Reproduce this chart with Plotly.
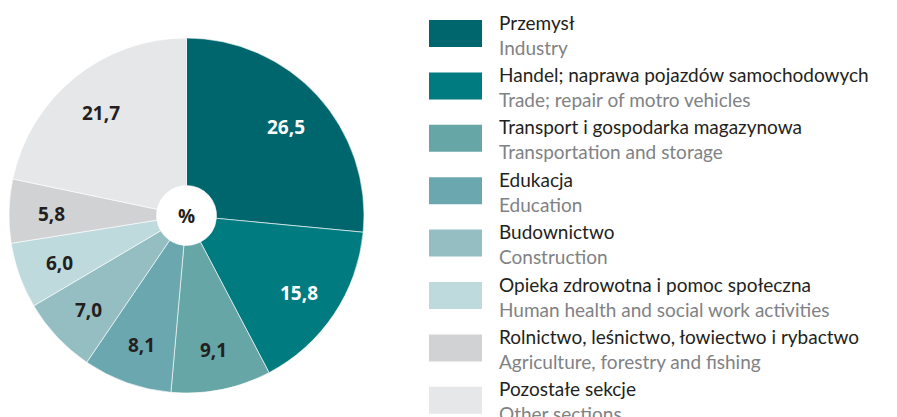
import math
import plotly.graph_objects as go

# ---- data ----
labels_pl = ["Przemysł", "Handel; naprawa pojazdów samochodowych", "Transport i gospodarka magazynowa",
             "Edukacja", "Budownictwo", "Opieka zdrowotna i pomoc społeczna",
             "Rolnictwo, leśnictwo, łowiectwo i rybactwo", "Pozostałe sekcje"]
labels_en = ["Industry", "Trade; repair of motro vehicles", "Transportation and storage",
             "Education", "Construction", "Human health and social work activities",
             "Agriculture, forestry and fishing", "Other sections"]
values = [26.5, 15.8, 9.1, 8.1, 7.0, 6.0, 5.8, 21.7]
value_text = ["26,5", "15,8", "9,1", "8,1", "7,0", "6,0", "5,8", "21,7"]

# ---- style ----
colors = ["#00666e", "#007b80", "#66a6a6", "#6ba7ae", "#95bec3", "#bfdadd", "#d1d2d4", "#e6e7e9"]
text_colors = ["#ffffff", "#ffffff", "#231f20", "#231f20", "#231f20", "#231f20", "#231f20", "#231f20"]
SW, SH = 897, 417      # screenshot size
OFF = 8                # page body margin
W, H = SW - OFF, SH - OFF
FONT = "Open Sans"
LEG_FONT = "Lato"

# pie geometry in screenshot pixels
cx, cy, R = 186.5, 215.5, 177.5
hole = 30 / R

def px(x):
    return (x - OFF) / W

def py(y):
    return 1 - (y - OFF) / H

fig = go.Figure()
fig.add_trace(go.Pie(
    values=values,
    labels=labels_en,
    sort=False,
    direction="clockwise",
    rotation=0,
    hole=hole,
    marker=dict(colors=colors, line=dict(color="#ffffff", width=0.6)),
    textinfo="none",
    hoverinfo="label+value",
    showlegend=False,
    domain=dict(x=[px(cx - R), px(cx + R)], y=[py(cy + R), py(cy - R)]),
))

annotations = []
# value labels placed at mid-angle of each slice
total = sum(values)
cum = 0
label_r = 0.76 * R
for v, t, tc in zip(values, value_text, text_colors):
    mid = (cum + v / 2) / total * 2 * math.pi
    cum += v
    x = cx + label_r * math.sin(mid)
    y = cy - label_r * math.cos(mid) + 2
    annotations.append(dict(x=px(x), y=py(y), xref="paper", yref="paper", text="<b>%s</b>" % t,
                            showarrow=False, font=dict(family=FONT, size=19, color=tc),
                            xanchor="center", yanchor="middle"))

annotations.append(dict(x=px(cx), y=py(cy), xref="paper", yref="paper", text="<b>%</b>",
                        showarrow=False, font=dict(family=FONT, size=19, color="#231f20"),
                        xanchor="center", yanchor="middle"))

# custom legend
shapes = []
sw_x0, sw_x1 = 429, 482
top0, pitch, sw_h = 20, 52.4, 27
txt_x = 497
for i, (pl, en, c) in enumerate(zip(labels_pl, labels_en, colors)):
    top = top0 + pitch * i
    shapes.append(dict(type="rect", xref="paper", yref="paper",
                       x0=px(sw_x0), x1=px(sw_x1), y0=py(top + sw_h), y1=py(top),
                       fillcolor=c, line=dict(width=0)))
    annotations.append(dict(x=px(txt_x), y=py(top - 11.5), xref="paper", yref="paper",
                            text="%s<br><span style='color:#808285'>%s</span>" % (pl, en),
                            showarrow=False, font=dict(family=LEG_FONT, size=19, color="#231f20"),
                            xanchor="left", yanchor="top", align="left"))

fig.update_layout(
    width=W, height=H,
    margin=dict(l=0, r=0, t=0, b=0),
    paper_bgcolor="#ffffff",
    plot_bgcolor="#ffffff",
    shapes=shapes,
    annotations=annotations,
)

fig.write_html("out.html")
